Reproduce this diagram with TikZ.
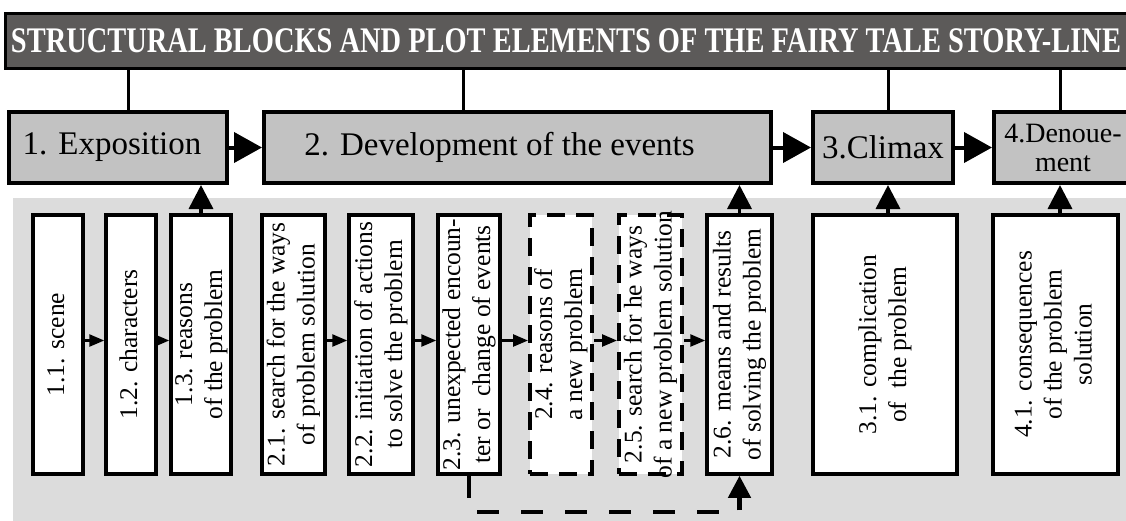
\documentclass[tikz,border=0pt]{standalone}
\usepackage{fontspec}
\setmainfont{Liberation Serif}
\usepackage{graphicx}
\usetikzlibrary{arrows.meta,calc}
\definecolor{titlegray}{HTML}{5C5A59}
\definecolor{boxgray}{HTML}{C2C2C2}
\definecolor{panelgray}{HTML}{DCDCDC}
\tikzset{
  titlebar/.style={draw=black, fill=titlegray, line width=3pt, inner sep=0pt, minimum height=55pt},
  titletext/.style={text=white, inner sep=0pt, font=\fontsize{36}{36}\selectfont\bfseries},
  mainbox/.style={draw=black, fill=boxgray, line width=4pt, inner sep=0pt, minimum height=71pt, font=\fontsize{33}{33}\selectfont},
  subbox/.style={draw=black, fill=white, line width=3.5pt, inner sep=0pt, minimum height=259pt, font=\fontsize{25.5}{30}\selectfont},
  dashbox/.style={subbox, line width=4pt, dash pattern=on 18pt off 11pt},
  link/.style={draw=black, line width=3pt},
  bigarrow/.style={draw=black, line width=4pt, -{Triangle[length=28pt,width=30pt]}},
  uparrow/.style={draw=black, line width=3.5pt, -{Triangle[length=24pt,width=24pt]}},
  smallarrow/.style={draw=black, line width=2.5pt, -{Triangle[length=15pt,width=12pt]}},
  dashloop/.style={draw=black, line width=4.5pt, dash pattern=on 22pt off 22pt, -{Triangle[length=22pt,width=22pt]}}
}
\newcommand{\vtext}[1]{\rotatebox{90}{\makebox[0pt]{\begin{tabular}{@{}c@{}}#1\end{tabular}}}}
\begin{document}
\begin{tikzpicture}[x=1pt,y=-1pt]
\clip (0,0) rectangle (1126,520);
\fill[white] (0,0) rectangle (1126,520);
\fill[panelgray] (13,198) rectangle (1140,530);

% title
\node[titlebar, minimum width=1135pt] (title) at (572.5,40.5) {};
\node[titletext] (titletxt) at (566,40.5) {\resizebox{1110pt}{\height}{STRUCTURAL BLOCKS AND PLOT ELEMENTS OF THE FAIRY TALE STORY-LINE}};

% main blocks
\node[mainbox, minimum width=218pt] (expo) at (118,147.5) {\hspace*{-12pt}1. Exposition};
\node[mainbox, minimum width=507pt] (dev) at (517.5,147.5) {\hspace*{-36pt}2. Development of the events};
\node[mainbox, minimum width=140pt] (climax) at (883,147.5) {3.Climax};
\node[mainbox, minimum width=138pt, align=center, font=\fontsize{28}{29}\selectfont] (denou) at (1063,147.5) {4.Denoue-\\ment};

% sub blocks
\node[subbox, minimum width=50pt] (s11) at (58,344.5) {\vtext{1.1. scene}};
\node[subbox, minimum width=50pt] (s12) at (131,344.5) {\vtext{1.2. characters}};
\node[subbox, minimum width=54pt] (s13) at (201,344.5) {\vtext{1.3. reasons\\of the problem}};
\node[subbox, minimum width=63pt] (s21) at (293.5,344.5) {\vtext{2.1. search for the ways\\of problem solution}};
\node[subbox, minimum width=64pt] (s22) at (381,344.5) {\vtext{2.2. initiation of actions\\to solve the problem}};
\node[subbox, minimum width=62pt] (s23) at (469,344.5) {\vtext{2.3. unexpected encoun-\\ter or\enspace change of events}};
\node[dashbox, minimum width=62pt] (s24) at (561,344.5) {\vtext{2.4. reasons of\\a new problem}};
\node[dashbox, minimum width=63pt] (s25) at (650.5,344.5) {\vtext{2.5. search for he ways\\of a new problem solution}};
\node[subbox, minimum width=65pt] (s26) at (739.5,344.5) {\vtext{2.6. means and results\\of solving the problem}};
\node[subbox, minimum width=144pt] (s31) at (885,344.5) {\vtext{3.1. complication\\of\enspace the problem}};
\node[subbox, minimum width=125pt] (s41) at (1055.5,344.5) {\vtext{4.1. consequences\\of the problem\\solution}};

% links from title
\draw[link] ([xshift=10pt]expo.north) -- ([xshift=10pt]expo.north |- title.south);
\draw[link] ([xshift=-54.5pt]dev.north) -- ([xshift=-54.5pt]dev.north |- title.south);
\draw[link] ([xshift=5pt]climax.north) -- ([xshift=5pt]climax.north |- title.south);
\draw[link] ([xshift=-3pt]denou.north) -- ([xshift=-3pt]denou.north |- title.south);

% main sequence
\draw[bigarrow] (expo.east) -- (dev.west);
\draw[bigarrow] (dev.east) -- (climax.west);
\draw[bigarrow] (climax.east) -- (denou.west);

% upward arrows
\draw[uparrow] (s13.north) -- (s13.north |- expo.south);
\draw[uparrow] (s26.north) -- (s26.north |- dev.south);
\draw[uparrow] ([xshift=3pt]s31.north) -- ([xshift=3pt]s31.north |- climax.south);
\draw[uparrow] ([xshift=4.5pt]s41.north) -- ([xshift=4.5pt]s41.north |- denou.south);

% sub sequence
\draw[smallarrow] ([yshift=4pt]s11.east) -- ([yshift=4pt]s12.west);
\draw[smallarrow] ([yshift=4pt]s12.east) -- ([yshift=4pt]s13.west);
\draw[smallarrow] ([yshift=4pt]s21.east) -- ([yshift=4pt]s22.west);
\draw[smallarrow] ([yshift=4pt]s22.east) -- ([yshift=4pt]s23.west);
\draw[smallarrow] ([yshift=4pt]s23.east) -- ([yshift=4pt]s24.west);
\draw[smallarrow] ([yshift=4pt]s24.east) -- ([yshift=4pt]s25.west);
\draw[smallarrow] ([yshift=4pt]s25.east) -- ([yshift=4pt]s26.west);

% dashed loop
\draw[dashloop] (s23.south) -- ++(0,36) coordinate (loopcorner) -| (s26.south);
\end{tikzpicture}
\end{document}
